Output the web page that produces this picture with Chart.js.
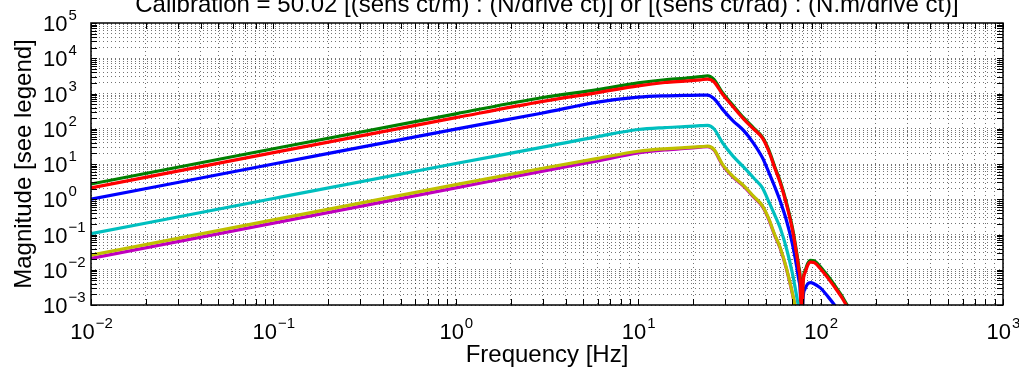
<!DOCTYPE html>
<html>
<head>
<meta charset="utf-8">
<title>Calibration</title>
<script src="https://cdn.jsdelivr.net/npm/chart.js@4.4.1/dist/chart.umd.min.js"></script>
<style>
  html, body { margin: 0; padding: 0; background: #fff; }
  #wrap { width: 1019px; height: 375px; }
</style>
</head>
<body>
<div id="wrap"><canvas id="calChart"></canvas></div>
<script>
// -- data --
const freq = [0.01, 0.1, 1, 3, 6, 10, 14, 18, 22, 24, 26, 29, 33, 38, 43, 48, 52, 56, 60, 65,
              70, 74, 76, 77.5, 78.7, 80, 82, 85, 88, 92, 100, 110, 120, 130, 140, 150];

const magGreen = [2.7, 27, 265, 770, 1290, 2000, 2450, 2700, 3000, 3160, 2500, 1050, 470, 200, 105, 58, 25, 8.5, 3.3, 0.8,
                  0.16, 0.03, 0.012, 0.004, 0.00002, 0.004, 0.009, 0.015, 0.0186, 0.018, 0.012, 0.0065, 0.0035, 0.0019, 0.001, 0.0006];
const magRed = [2.1, 21, 207, 600, 1060, 1650, 2050, 2250, 2450, 2550, 2150, 950, 430, 185, 97, 54, 23, 7.8, 3.0, 0.72,
                0.14, 0.026, 0.01, 0.0035, 0.00002, 0.0035, 0.008, 0.0135, 0.0165, 0.016, 0.0105, 0.0057, 0.0031, 0.0017, 0.0009, 0.00055];
const magBlue = [1.0, 10, 98, 280, 570, 790, 860, 880, 900, 900, 720, 355, 170, 87, 38, 15, 5.8, 2.3, 0.9, 0.25,
                 0.055, 0.012, 0.005, 0.0018, 0.00001, 0.0013, 0.0028, 0.004, 0.0043, 0.004, 0.003, 0.0017, 0.00095, 0.0005, 0.0003, 0.0002];
const magCyan = [0.105, 1.05, 10.3, 30, 60, 95, 108, 115, 122, 125, 100, 40, 17, 8, 4, 2.1, 0.85, 0.36, 0.155, 0.04,
                 0.008, 0.0017, 0.0007, 0.0002, 0.000005, 0.00015, 0.0003, 0.0004, 0.00045, 0.0004, 0.0003, 0.00017, 0.0001, 0.00005, 0.00003, 0.00002];
const magMagenta = [0.021, 0.21, 2.1, 6.3, 12.3, 20.5, 25, 27.5, 30, 31, 25, 9.3, 4.3, 2.28, 1.14, 0.62, 0.266, 0.095, 0.041, 0.0105,
                    0.0021, 0.00048, 0.00019, 0.000057, 0.000001, 0.00004, 0.000076, 0.000095, 0.0001, 0.000095, 0.000066, 0.000038, 0.000019, 0.0000095, 0.0000066, 0.0000047];
const magYellow = [0.026, 0.26, 2.6, 7.6, 14.5, 23, 27, 29, 31, 32, 26, 9.8, 4.5, 2.4, 1.2, 0.65, 0.28, 0.1, 0.043, 0.011,
                   0.0022, 0.0005, 0.0002, 0.00006, 0.000001, 0.00004, 0.00008, 0.0001, 0.00011, 0.0001, 0.00007, 0.00004, 0.00002, 0.00001, 0.000007, 0.000005];

// decade exponents used for tick labels
const xTickExp = [-2, -1, 0, 1, 2, 3];
const yTickExp = [-3, -2, -1, 0, 1, 2, 3, 4, 5];

const titleText = 'Calibration = 50.02 [(sens ct/m) : (N/drive ct)] or [(sens ct/rad) : (N.m/drive ct)]';
const xLabel = 'Frequency [Hz]';
const yLabel = 'Magnitude [see legend]';

const FONT = '"Liberation Sans", Arial, Helvetica, sans-serif';

// 1..9 x 10^n for every decade, used for grid + inner tick marks
function decadeTicks(exps) {
  const out = [];
  for (let i = 0; i < exps.length; i++) {
    const base = Math.pow(10, exps[i]);
    if (i === exps.length - 1) { out.push(base); break; }
    for (let m = 1; m <= 9; m++) out.push(m * base);
  }
  return out;
}

function series(mags) {
  return freq.map((f, i) => ({ x: f, y: mags[i] }));
}

function line(label, mags, color, order) {
  return {
    label: label,
    data: series(mags),
    borderColor: color,
    backgroundColor: color,
    borderWidth: 3.2,
    pointRadius: 0,
    cubicInterpolationMode: 'monotone',
    order: order
  };
}

// frame, inner ticks, tick labels and titles (MATLAB look)
const matlabAxes = {
  id: 'matlabAxes',
  afterDraw(chart) {
    const { ctx, chartArea: a, scales: { x, y } } = chart;
    ctx.save();
    ctx.strokeStyle = '#000';
    ctx.lineWidth = 1;
    ctx.beginPath();
    x.ticks.forEach(t => {
      const px = Math.round(x.getPixelForValue(t.value)) + 0.5;
      ctx.moveTo(px, a.bottom); ctx.lineTo(px, a.bottom - 6);
      ctx.moveTo(px, a.top); ctx.lineTo(px, a.top + 6);
    });
    y.ticks.forEach(t => {
      const py = Math.round(y.getPixelForValue(t.value)) + 0.5;
      ctx.moveTo(a.left, py); ctx.lineTo(a.left + 6, py);
      ctx.moveTo(a.right, py); ctx.lineTo(a.right - 6, py);
    });
    ctx.stroke();
    ctx.lineWidth = 1.5;
    ctx.strokeRect(a.left, a.top, a.right - a.left, a.bottom - a.top);

    ctx.fillStyle = '#000';
    ctx.textBaseline = 'alphabetic';
    ctx.textAlign = 'left';
    const bigFont = '22px ' + FONT, supFont = '15px ' + FONT;

    xTickExp.forEach(e => {
      const px = x.getPixelForValue(Math.pow(10, e));
      const sup = String(e).replace('-', '\u2212');
      ctx.font = bigFont; const w1 = ctx.measureText('10').width;
      ctx.font = supFont; const w2 = ctx.measureText(sup).width;
      const x0 = px - (w1 + w2) / 2;
      ctx.font = bigFont; ctx.fillText('10', x0, a.bottom + 34);
      ctx.font = supFont; ctx.fillText(sup, x0 + w1 + 1, a.bottom + 23);
    });

    yTickExp.forEach(e => {
      const py = y.getPixelForValue(Math.pow(10, e));
      const sup = String(e).replace('-', '\u2212');
      ctx.font = bigFont; ctx.fillText('10', 43, py + 8);
      const w1 = ctx.measureText('10').width;
      ctx.font = supFont; ctx.fillText(sup, 43 + w1 + 1, py - 3);
    });

    ctx.font = '24px ' + FONT;
    ctx.textAlign = 'center';
    const cx = (a.left + a.right) / 2;
    ctx.fillText(titleText, cx, 12);
    ctx.fillText(xLabel, cx, 362);
    ctx.translate(31, (a.top + a.bottom) / 2);
    ctx.rotate(-Math.PI / 2);
    ctx.fillText(yLabel, 0, 0);
    ctx.restore();
  }
};

function logAxis(lo, hi, exps) {
  return {
    type: 'logarithmic',
    min: lo,
    max: hi,
    afterBuildTicks: scale => { scale.ticks = decadeTicks(exps).map(v => ({ value: v })); },
    ticks: { display: false },
    grid: { color: 'rgba(0,0,0,0.55)', lineWidth: 1, drawTicks: false },
    border: { display: false, dash: [1, 3] }
  };
}

new Chart(document.getElementById('calChart').getContext('2d'), {
  type: 'line',
  data: {
    datasets: [
      line('blue', magBlue, '#0000ff', 6),
      line('green', magGreen, '#007f00', 5),
      line('red', magRed, '#ff0000', 4),
      line('cyan', magCyan, '#00bfbf', 3),
      line('magenta', magMagenta, '#bf00bf', 2),
      line('yellow', magYellow, '#bfbf00', 1)
    ]
  },
  options: {
    responsive: true,
    maintainAspectRatio: false,
    animation: false,
    layout: { padding: { left: 91, right: 16, top: 23, bottom: 70 } },
    plugins: { legend: { display: false }, tooltip: { enabled: false } },
    scales: {
      x: logAxis(0.01, 1000, xTickExp),
      y: logAxis(0.001, 100000, yTickExp)
    }
  },
  plugins: [matlabAxes]
});
</script>
</body>
</html>
